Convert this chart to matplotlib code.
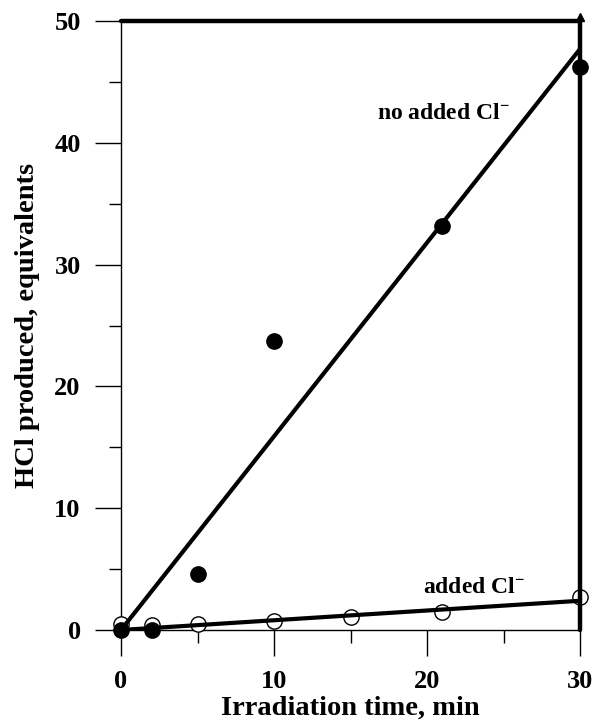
import matplotlib.pyplot as plt
from matplotlib.ticker import MultipleLocator

plt.rcParams['font.family'] = 'Liberation Serif'
plt.rcParams['font.weight'] = 'bold'
plt.rcParams['mathtext.fontset'] = 'custom'
plt.rcParams['mathtext.rm'] = 'Liberation Serif:bold'
plt.rcParams['mathtext.it'] = 'Liberation Serif:bold'
plt.rcParams['mathtext.bf'] = 'Liberation Serif:bold'

# data
t_no_cl = [0, 2, 5, 10, 21, 30]
hcl_no_cl = [0, 0, 4.6, 23.7, 33.2, 46.2]
t_cl = [0, 2, 5, 10, 15, 21, 30]
hcl_cl = [0.5, 0.4, 0.5, 0.7, 1.1, 1.5, 2.7]
fit_x = [0, 30]
fit_no_cl = [0, 47.7]
fit_cl = [0, 2.4]

fig = plt.figure(figsize=(5.93, 7.24), dpi=100)
ax = fig.add_axes([121 / 593, 1 - 630 / 724, (580 - 121) / 593, (630 - 21) / 724])

# open circles (added Cl-)
ax.plot(t_cl, hcl_cl, 'o', ms=11, mfc='white', mec='black', mew=1, clip_on=False, zorder=3)
# fits
ax.plot(fit_x, fit_no_cl, color='black', lw=3, solid_capstyle='butt', zorder=4)
ax.plot(fit_x, fit_cl, color='black', lw=3, solid_capstyle='butt', zorder=4)
# filled circles (no added Cl-)
ax.plot(t_no_cl, hcl_no_cl, 'o', ms=11, color='black', clip_on=False, zorder=5)

# thick frame on top and right with arrow at the corner
ax.plot([0, 30], [50, 50], color='black', lw=3.2, solid_capstyle='round', clip_on=False, zorder=6)
ax.plot([30, 30], [0, 50], color='black', lw=3.2, solid_capstyle='round', clip_on=False, zorder=6)
ax.plot([30], [50.3], marker='^', ms=6, color='black', clip_on=False, zorder=7)

ax.set_xlim(0, 30)
ax.set_ylim(0, 50)
ax.spines['top'].set_visible(False)
ax.spines['right'].set_visible(False)
ax.spines['left'].set_linewidth(1)
ax.spines['bottom'].set_linewidth(1)

ax.xaxis.set_major_locator(MultipleLocator(10))
ax.xaxis.set_minor_locator(MultipleLocator(5))
ax.yaxis.set_major_locator(MultipleLocator(10))
ax.yaxis.set_minor_locator(MultipleLocator(5))
ax.tick_params(which='major', direction='out', length=19, width=1, labelsize=19, pad=10)
ax.tick_params(which='minor', direction='out', length=9, width=1)

ax.set_xlabel('Irradiation time, min', fontsize=20.5, fontweight='bold', labelpad=2)
ax.set_ylabel('HCl produced, equivalents', fontsize=20.5, fontweight='bold', labelpad=10)

ax.text(21.1, 42.4, 'no added Cl$^{-}$', fontsize=17, fontweight='bold', ha='center', va='center')
ax.text(23.1, 3.5, 'added Cl$^{-}$', fontsize=17, fontweight='bold', ha='center', va='center')

fig.savefig('out.png', dpi=100)
